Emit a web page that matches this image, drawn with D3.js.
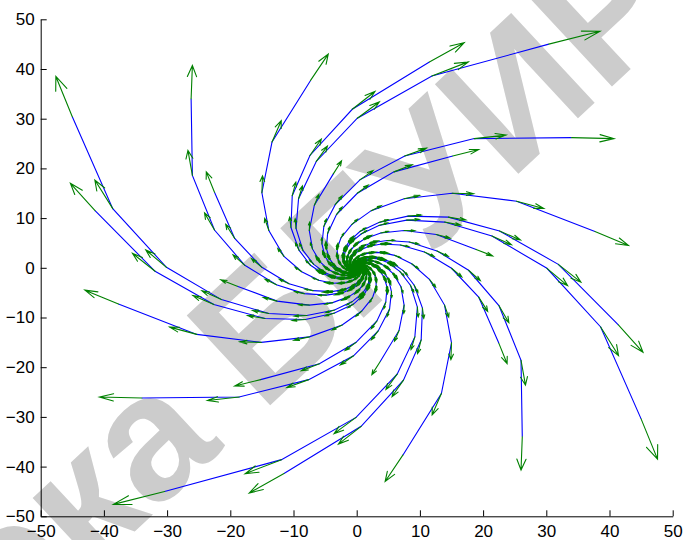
<!DOCTYPE html>
<html>
<head>
<meta charset="utf-8">
<script src="https://cdn.jsdelivr.net/npm/d3@7"></script>
<style>
  body { margin: 0; background: #fff; }
  svg { display: block; }
</style>
</head>
<body>
<svg id="chart" width="683" height="540"></svg>
<script>
// trajectory points, inner end first (x, y in axis units)
const groupA = [
  [[0.5,0.41],[0.8,0.33],[1.16,0.12],[1.54,-0.3],[1.86,-0.99],[2,-2],[1.8,-3.4],[1,-5],[-0.7,-6.8],[-3.5,-8.5],[-7.9,-9.6],[-13.9,-9.2],[-21.4,-6.4],[-30.1,0.1],[-38.6,11.9],[-45,30.4]],
  [[0.27,0.43],[0.52,0.45],[0.84,0.38],[1.23,0.16],[1.64,-0.28],[2,-1],[2.2,-2.1],[2,-3.5],[1.2,-5.3],[-0.5,-7.3],[-3.5,-9.1],[-8.1,-10.4],[-14.5,-10.2],[-22.6,-7.4],[-31.9,-0.7],[-41.4,11.5]],
  [[0.48,0.18],[0.68,0.05],[0.9,-0.2],[1.08,-0.61],[1.14,-1.21],[1,-2],[0.5,-3],[-0.5,-4],[-2.2,-5],[-4.8,-5.5],[-8.3,-5.2],[-12.7,-3.4],[-17.7,0.5],[-22.5,7.6],[-26,18.6],[-26.2,34]],
  [[0.25,0.2],[0.4,0.17],[0.58,0.06],[0.77,-0.15],[0.93,-0.5],[1,-1],[0.9,-1.7],[0.5,-2.5],[-0.3,-3.4],[-1.8,-4.3],[-3.9,-4.8],[-6.9,-4.6],[-10.7,-3.2],[-15,0.1],[-19.3,5.9],[-22.5,15.2]],
  [[0.45,-0.04],[0.57,-0.23],[0.64,-0.52],[0.62,-0.92],[0.43,-1.42],[0,-2],[-0.8,-2.6],[-2,-3],[-3.8,-3.1],[-6,-2.5],[-8.7,-0.8],[-11.5,2.3],[-13.9,7.5],[-15,15.1],[-13.4,25.3],[-7.3,37.7]],
  [[0.23,-0.02],[0.28,-0.12],[0.32,-0.26],[0.31,-0.46],[0.22,-0.71],[0,-1],[-0.4,-1.3],[-1,-1.5],[-1.9,-1.5],[-3,-1.2],[-4.4,-0.4],[-5.8,1.2],[-7,3.8],[-7.5,7.5],[-6.7,12.6],[-3.7,18.9]]
];
const groupB = [
  [[0.41,-0.5],[0.33,-0.8],[0.12,-1.16],[-0.3,-1.54],[-0.99,-1.86],[-2,-2],[-3.4,-1.8],[-5,-1],[-6.8,0.7],[-8.5,3.5],[-9.6,7.9],[-9.2,13.9],[-6.4,21.4],[0.1,30.1],[11.9,38.6],[30.4,45]],
  [[0.43,-0.27],[0.45,-0.52],[0.38,-0.84],[0.16,-1.23],[-0.28,-1.64],[-1,-2],[-2.1,-2.2],[-3.5,-2],[-5.3,-1.2],[-7.3,0.5],[-9.1,3.5],[-10.4,8.1],[-10.2,14.5],[-7.4,22.6],[-0.7,31.9],[11.5,41.4]],
  [[0.18,-0.48],[0.05,-0.68],[-0.2,-0.9],[-0.61,-1.08],[-1.21,-1.14],[-2,-1],[-3,-0.5],[-4,0.5],[-5,2.2],[-5.5,4.8],[-5.2,8.3],[-3.4,12.7],[0.5,17.7],[7.6,22.5],[18.6,26],[34,26.2]],
  [[0.2,-0.25],[0.17,-0.4],[0.06,-0.58],[-0.15,-0.77],[-0.5,-0.93],[-1,-1],[-1.7,-0.9],[-2.5,-0.5],[-3.4,0.3],[-4.3,1.8],[-4.8,3.9],[-4.6,6.9],[-3.2,10.7],[0.1,15],[5.9,19.3],[15.2,22.5]],
  [[-0.04,-0.45],[-0.23,-0.57],[-0.52,-0.64],[-0.92,-0.62],[-1.42,-0.43],[-2,0],[-2.6,0.8],[-3,2],[-3.1,3.8],[-2.5,6],[-0.8,8.7],[2.3,11.5],[7.5,13.9],[15.1,15],[25.3,13.4],[37.7,7.3]],
  [[-0.02,-0.23],[-0.12,-0.28],[-0.26,-0.32],[-0.46,-0.31],[-0.71,-0.22],[-1,0],[-1.3,0.4],[-1.5,1],[-1.5,1.9],[-1.2,3],[-0.4,4.4],[1.2,5.8],[3.8,7],[7.5,7.5],[12.6,6.7],[18.9,3.7]]
];
const groupC = [
  [[-0.5,-0.41],[-0.8,-0.33],[-1.16,-0.12],[-1.54,0.3],[-1.86,0.99],[-2,2],[-1.8,3.4],[-1,5],[0.7,6.8],[3.5,8.5],[7.9,9.6],[13.9,9.2],[21.4,6.4],[30.1,-0.1],[38.6,-11.9],[45,-30.4]],
  [[-0.27,-0.43],[-0.52,-0.45],[-0.84,-0.38],[-1.23,-0.16],[-1.64,0.28],[-2,1],[-2.2,2.1],[-2,3.5],[-1.2,5.3],[0.5,7.3],[3.5,9.1],[8.1,10.4],[14.5,10.2],[22.6,7.4],[31.9,0.7],[41.4,-11.5]],
  [[-0.48,-0.18],[-0.68,-0.05],[-0.9,0.2],[-1.08,0.61],[-1.14,1.21],[-1,2],[-0.5,3],[0.5,4],[2.2,5],[4.8,5.5],[8.3,5.2],[12.7,3.4],[17.7,-0.5],[22.5,-7.6],[26,-18.6],[26.2,-34]],
  [[-0.25,-0.2],[-0.4,-0.17],[-0.58,-0.06],[-0.77,0.15],[-0.93,0.5],[-1,1],[-0.9,1.7],[-0.5,2.5],[0.3,3.4],[1.8,4.3],[3.9,4.8],[6.9,4.6],[10.7,3.2],[15,-0.1],[19.3,-5.9],[22.5,-15.2]],
  [[-0.45,0.04],[-0.57,0.23],[-0.64,0.52],[-0.62,0.92],[-0.43,1.42],[0,2],[0.8,2.6],[2,3],[3.8,3.1],[6,2.5],[8.7,0.8],[11.5,-2.3],[13.9,-7.5],[15,-15.1],[13.4,-25.3],[7.3,-37.7]],
  [[-0.23,0.02],[-0.28,0.12],[-0.32,0.26],[-0.31,0.46],[-0.22,0.71],[0,1],[0.4,1.3],[1,1.5],[1.9,1.5],[3,1.2],[4.4,0.4],[5.8,-1.2],[7,-3.8],[7.5,-7.5],[6.7,-12.6],[3.7,-18.9]]
];
const groupD = [
  [[-0.41,0.5],[-0.33,0.8],[-0.12,1.16],[0.3,1.54],[0.99,1.86],[2,2],[3.4,1.8],[5,1],[6.8,-0.7],[8.5,-3.5],[9.6,-7.9],[9.2,-13.9],[6.4,-21.4],[-0.1,-30.1],[-11.9,-38.6],[-30.4,-45]],
  [[-0.43,0.27],[-0.45,0.52],[-0.38,0.84],[-0.16,1.23],[0.28,1.64],[1,2],[2.1,2.2],[3.5,2],[5.3,1.2],[7.3,-0.5],[9.1,-3.5],[10.4,-8.1],[10.2,-14.5],[7.4,-22.6],[0.7,-31.9],[-11.5,-41.4]],
  [[-0.18,0.48],[-0.05,0.68],[0.2,0.9],[0.61,1.08],[1.21,1.14],[2,1],[3,0.5],[4,-0.5],[5,-2.2],[5.5,-4.8],[5.2,-8.3],[3.4,-12.7],[-0.5,-17.7],[-7.6,-22.5],[-18.6,-26],[-34,-26.2]],
  [[-0.2,0.25],[-0.17,0.4],[-0.06,0.58],[0.15,0.77],[0.5,0.93],[1,1],[1.7,0.9],[2.5,0.5],[3.4,-0.3],[4.3,-1.8],[4.8,-3.9],[4.6,-6.9],[3.2,-10.7],[-0.1,-15],[-5.9,-19.3],[-15.2,-22.5]],
  [[0.04,0.45],[0.23,0.57],[0.52,0.64],[0.92,0.62],[1.42,0.43],[2,0],[2.6,-0.8],[3,-2],[3.1,-3.8],[2.5,-6],[0.8,-8.7],[-2.3,-11.5],[-7.5,-13.9],[-15.1,-15],[-25.3,-13.4],[-37.7,-7.3]],
  [[0.02,0.23],[0.12,0.28],[0.26,0.32],[0.46,0.31],[0.71,0.22],[1,0],[1.3,-0.4],[1.5,-1],[1.5,-1.9],[1.2,-3],[0.4,-4.4],[-1.2,-5.8],[-3.8,-7],[-7.5,-7.5],[-12.6,-6.7],[-18.9,-3.7]]
];

// heads of the last (outermost) arrows, same order as the groups
const tipsA = [[-47.6,38.5],[-45.3,17],[-26,40.7],[-23.8,19.3],[-4.5,43],[-2.4,21.5]];
const tipsB = [[38.5,47.6],[17,45.3],[40.7,26],[19.3,23.8],[43,4.5],[21.5,2.4]];
const tipsC = [[47.6,-38.5],[45.3,-17],[26,-40.7],[23.8,-19.3],[4.5,-43],[2.4,-21.5]];
const tipsD = [[-38.5,-47.6],[-17,-45.3],[-40.7,-26],[-19.3,-23.8],[-43,-4.5],[-21.5,-2.4]];

const xTicks = [-50,-40,-30,-20,-10,0,10,20,30,40,50];
const yTicks = [-50,-40,-30,-20,-10,0,10,20,30,40,50];

const svg = d3.select("#chart");
const margin = {top: 19.3, right: 10.3, bottom: 23.7, left: 40.7};
const W = 683, H = 540;

const x = d3.scaleLinear().domain([-50, 50]).range([margin.left, W - margin.right]);
const y = d3.scaleLinear().domain([-50, 50]).range([H - margin.bottom, margin.top]);

// watermark behind everything, placed by the start of its "Г"
const wmText = "Библиотека БГУИР";
const wm = svg.append("g").attr("transform", "translate(355,326) rotate(-43)");
const wt = wm.append("text")
    .attr("font-family", "'Liberation Sans', Arial, sans-serif")
    .attr("font-weight", "bold")
    .attr("font-size", 178)
    .attr("fill", "#cccccc")
    .text(wmText);
const gStart = wt.node().getStartPositionOfChar(wmText.indexOf("Г")).x;
wt.attr("x", -gStart);

const trajectories = [...groupA, ...groupB, ...groupC, ...groupD];
const tips = [...tipsA, ...tipsB, ...tipsC, ...tipsD];

const line = d3.line().x(d => x(d[0])).y(d => y(d[1]));

svg.append("g")
    .selectAll("path")
    .data(trajectories)
    .join("path")
    .attr("d", line)
    .attr("fill", "none")
    .attr("stroke", "#0000ff")
    .attr("stroke-width", 1.1);

// quiver: one arrow per point, direction taken from the neighbouring points
const arrows = [];
trajectories.forEach((pts, i) => {
    const n = pts.length;
    pts.forEach((p, k) => {
        let u, v;
        if (k === n - 1) {
            u = tips[i][0] - p[0]; v = tips[i][1] - p[1];
        } else if (k === 0) {
            u = 0.33 * (pts[1][0] - p[0]); v = 0.33 * (pts[1][1] - p[1]);
        } else {
            u = 0.19 * (pts[k + 1][0] - pts[k - 1][0]);
            v = 0.19 * (pts[k + 1][1] - pts[k - 1][1]);
        }
        arrows.push({x: p[0], y: p[1], u, v});
    });
});

const alpha = 0.33, beta = 0.33;
const arrowPath = d => {
    const tx = d.x + d.u, ty = d.y + d.v;
    const h1x = tx - alpha * (d.u + beta * d.v), h1y = ty - alpha * (d.v - beta * d.u);
    const h2x = tx - alpha * (d.u - beta * d.v), h2y = ty - alpha * (d.v + beta * d.u);
    return `M${x(d.x)},${y(d.y)}L${x(tx)},${y(ty)}M${x(h1x)},${y(h1y)}L${x(tx)},${y(ty)}L${x(h2x)},${y(h2y)}`;
};

svg.append("g")
    .selectAll("path")
    .data(arrows)
    .join("path")
    .attr("d", arrowPath)
    .attr("fill", "none")
    .attr("stroke", "#008000")
    .attr("stroke-width", d => Math.hypot(d.u, d.v) < 1 ? 2.6 : 1.1)
    .attr("stroke-linecap", "round");

// axes, ticks pointing inward
const font = "'Liberation Sans', Arial, Helvetica, sans-serif";

const gx = svg.append("g")
    .attr("transform", `translate(0,${H - margin.bottom})`)
    .call(d3.axisBottom(x).tickValues(xTicks).tickSizeInner(-6).tickSizeOuter(0).tickPadding(9));

const gy = svg.append("g")
    .attr("transform", `translate(${margin.left},0)`)
    .call(d3.axisLeft(y).tickValues(yTicks).tickSizeInner(-6).tickSizeOuter(0).tickPadding(6));

[gx, gy].forEach(g => {
    g.selectAll("text").attr("font-family", font).attr("font-size", 17).attr("fill", "#000");
    g.selectAll("line").attr("stroke", "#000");
    g.select(".domain").attr("stroke", "#000");
});
</script>
</body>
</html>
